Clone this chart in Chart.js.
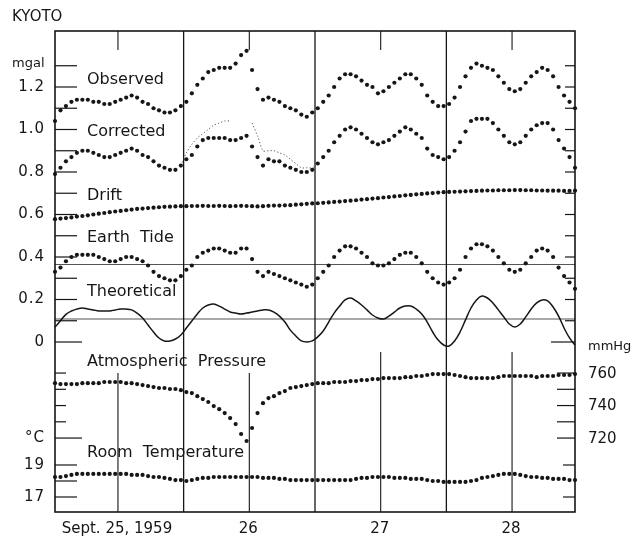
<!DOCTYPE html>
<html>
<head>
<meta charset="utf-8">
<script src="https://cdn.jsdelivr.net/npm/chart.js@4.4.1/dist/chart.umd.min.js"></script>
<style>
  html, body { margin: 0; padding: 0; background: #fff; }
  #wrap { width: 635px; height: 536px; position: relative; }
</style>
</head>
<body>
<div id="wrap"><canvas id="kyoto"></canvas></div>
<script>
// hourly readings, index = hour from start of Sept. 25 (0..95)
const observed = [1.04,1.09,1.11,1.13,1.14,1.14,1.14,1.13,1.13,1.12,
  1.12,1.13,1.14,1.15,1.16,1.15,1.13,1.12,1.10,1.09,
  1.08,1.08,1.09,1.11,1.13,1.17,1.21,1.24,1.27,1.28,
  1.29,1.29,1.29,1.31,1.35,1.37,1.28,1.19,1.14,1.15,
  1.14,1.13,1.11,1.10,1.09,1.07,1.06,1.08,1.10,1.13,
  1.16,1.20,1.24,1.26,1.26,1.25,1.23,1.21,1.20,1.17,
  1.18,1.20,1.22,1.24,1.26,1.26,1.24,1.21,1.16,1.13,
  1.11,1.11,1.12,1.15,1.20,1.25,1.29,1.31,1.30,1.29,
  1.28,1.25,1.22,1.19,1.18,1.19,1.22,1.25,1.27,1.29,
  1.28,1.25,1.20,1.16,1.13,1.10];

const corrected = [0.79,0.82,0.85,0.87,0.89,0.90,0.90,0.89,0.88,0.87,
  0.87,0.88,0.89,0.90,0.91,0.90,0.88,0.87,0.85,0.83,
  0.82,0.81,0.81,0.83,0.86,0.88,0.92,0.95,0.96,0.96,
  0.96,0.96,0.95,0.95,0.96,0.97,0.92,0.87,0.83,0.86,
  0.85,0.85,0.83,0.82,0.81,0.80,0.80,0.81,0.84,0.87,
  0.90,0.94,0.97,1.00,1.01,1.00,0.98,0.96,0.94,0.93,
  0.94,0.95,0.97,0.99,1.01,1.00,0.98,0.96,0.91,0.88,
  0.87,0.86,0.87,0.90,0.94,0.99,1.04,1.05,1.05,1.05,
  1.03,1.00,0.97,0.94,0.93,0.94,0.97,1.00,1.02,1.03,
  1.03,1.00,0.95,0.91,0.87,0.82];

// thin dotted trace during the pressure drop, hours 23..48
const altStart = 23;
const altCorrected = [0.83,0.89,0.93,0.96,0.98,1.00,1.02,1.03,1.04,1.04,
  null,null,null,1.03,0.97,0.90,0.90,0.90,0.89,0.88,
  0.86,0.84,0.82,0.82,0.82,0.84];

const drift = [0.578,0.581,0.583,0.586,0.590,0.593,0.596,0.600,0.604,0.607,
  0.611,0.614,0.617,0.620,0.623,0.626,0.628,0.630,0.632,0.634,
  0.636,0.637,0.638,0.639,0.639,0.640,0.640,0.641,0.640,0.640,
  0.641,0.640,0.639,0.640,0.641,0.640,0.639,0.638,0.639,0.641,
  0.642,0.642,0.643,0.644,0.646,0.648,0.650,0.652,0.653,0.655,
  0.657,0.659,0.661,0.663,0.665,0.667,0.670,0.672,0.675,0.677,
  0.680,0.682,0.685,0.687,0.690,0.692,0.695,0.697,0.699,0.701,
  0.703,0.705,0.706,0.707,0.708,0.709,0.710,0.711,0.712,0.713,
  0.713,0.714,0.714,0.714,0.715,0.715,0.714,0.714,0.713,0.713,
  0.712,0.712,0.712,0.711,0.711,0.712];

const earthTide = [0.33,0.35,0.38,0.40,0.41,0.41,0.41,0.41,0.40,0.39,
  0.38,0.38,0.39,0.40,0.40,0.39,0.38,0.36,0.33,0.31,
  0.30,0.29,0.29,0.31,0.34,0.36,0.40,0.42,0.43,0.44,
  0.44,0.43,0.42,0.42,0.44,0.44,0.39,0.33,0.31,0.33,
  0.32,0.31,0.30,0.29,0.28,0.27,0.26,0.27,0.30,0.33,
  0.36,0.40,0.43,0.45,0.45,0.44,0.42,0.40,0.37,0.36,
  0.36,0.37,0.39,0.41,0.42,0.42,0.40,0.37,0.33,0.30,
  0.28,0.27,0.28,0.30,0.34,0.40,0.44,0.46,0.46,0.45,
  0.43,0.40,0.37,0.34,0.33,0.34,0.37,0.40,0.43,0.44,
  0.43,0.40,0.35,0.31,0.28,0.25];

const theoretical = [0.07,0.10,0.13,0.146,0.155,0.16,0.155,0.151,0.146,0.146,
  0.146,0.151,0.155,0.155,0.151,0.136,0.113,0.080,0.047,0.019,
  0.005,0.005,0.014,0.033,0.066,0.099,0.132,0.160,0.174,0.179,
  0.169,0.155,0.141,0.136,0.132,0.136,0.141,0.146,0.151,0.151,
  0.141,0.122,0.094,0.056,0.028,0.005,0.000,0.005,0.024,0.052,
  0.094,0.136,0.169,0.198,0.207,0.193,0.174,0.151,0.127,0.113,
  0.108,0.122,0.141,0.160,0.169,0.169,0.155,0.132,0.094,0.047,
  0.009,-0.014,-0.019,0.005,0.047,0.104,0.160,0.198,0.216,0.207,
  0.184,0.151,0.118,0.085,0.071,0.085,0.118,0.155,0.184,0.198,
  0.193,0.165,0.122,0.066,0.019,-0.014];

const pressure = [753.8,753.2,753.2,753.2,753.2,753.8,753.8,753.8,753.8,754.5,
  754.5,754.5,754.5,753.8,753.8,753.2,752.6,752.0,751.4,750.8,
  750.8,750.2,750.2,749.5,748.3,747.7,745.8,744.0,742.2,739.7,
  737.8,735.4,732.3,728.6,722.5,718.2,726.2,735.4,741.5,744.6,
  745.8,747.7,748.9,750.8,751.4,752.0,752.6,753.2,753.8,753.8,
  753.8,754.5,754.5,754.5,755.1,755.1,755.7,755.7,756.3,756.3,
  756.9,756.9,756.9,756.9,757.5,757.5,758.2,758.2,758.8,759.4,
  759.4,759.4,759.4,758.8,758.2,757.5,756.9,756.9,756.9,756.9,
  756.9,757.5,758.2,758.2,758.2,758.2,758.2,758.2,757.5,758.2,
  758.2,758.2,758.8,758.8,758.8,759.4];

const roomTemp = [18.25,18.25,18.31,18.38,18.44,18.44,18.44,18.44,18.44,18.44,
  18.44,18.44,18.44,18.44,18.38,18.38,18.38,18.31,18.25,18.25,
  18.19,18.13,18.06,18.06,18.00,18.06,18.13,18.19,18.19,18.25,
  18.25,18.25,18.25,18.25,18.25,18.25,18.25,18.25,18.19,18.19,
  18.19,18.13,18.13,18.06,18.06,18.06,18.06,18.06,18.06,18.06,
  18.06,18.06,18.06,18.06,18.06,18.13,18.19,18.19,18.25,18.25,
  18.25,18.25,18.19,18.19,18.19,18.13,18.13,18.13,18.06,18.00,
  18.00,17.94,17.94,17.94,17.94,17.94,18.00,18.06,18.19,18.25,
  18.31,18.38,18.44,18.44,18.44,18.38,18.31,18.25,18.25,18.19,
  18.19,18.13,18.13,18.13,18.06,18.06];

// axes
const mgalTicks = [0,0.1,0.2,0.3,0.4,0.5,0.6,0.7,0.8,0.9,1.0,1.1,1.2,1.3];
const mgalLabelValues = [0,0.2,0.4,0.6,0.8,1.0,1.2];
const mgalLabelText = ['0','0.2','0.4','0.6','0.8','1.0','1.2'];
const mmhgTicks = [720,730,740,750,760];
const mmhgLabels = [720,740,760];
const degTicks = [17,18,19];
const degLabels = [17,19];
const baselines = [0.365, 0.108];
const midnights = [23.5, 47.5, 71.5];
const noons = [11.5, 35.5, 59.5, 83.5];
const noonLineFrom = [760, 760, 773, 773]; // mmHg where the lower noon lines begin
const dayLabels = ['Sept. 25, 1959', '26', '27', '28'];

const ink = '#161616';
const FONT = '"DejaVu Sans", sans-serif';

const nameTags = [
  ['Observed', 80], ['Corrected', 132], ['Drift', 196], ['Earth  Tide', 238],
  ['Theoretical', 292], ['Atmospheric  Pressure', 362], ['Room  Temperature', 453]
];

function seg(ctx, x1, y1, x2, y2) {
  ctx.beginPath();
  ctx.moveTo(x1, y1);
  ctx.lineTo(x2, y2);
  ctx.stroke();
}

const sheet = {
  id: 'sheet',
  beforeDatasetsDraw(chart) {
    const { ctx, chartArea: a, scales } = chart;
    const X = scales.x, Y = scales.y, P = scales.p;
    ctx.save();
    ctx.strokeStyle = '#555';
    ctx.lineWidth = 1.1;
    baselines.forEach(v => {
      const y = Y.getPixelForValue(v);
      seg(ctx, a.left, y, a.right, y);
    });
    ctx.strokeStyle = ink;
    ctx.lineWidth = 1.3;
    midnights.forEach(h => {
      const x = X.getPixelForValue(h);
      seg(ctx, x, a.top, x, a.bottom);
    });
    ctx.lineWidth = 1.1;
    noons.forEach((h, i) => {
      const x = X.getPixelForValue(h);
      seg(ctx, x, a.top, x, a.top + 19);
      seg(ctx, x, P.getPixelForValue(noonLineFrom[i]), x, a.bottom);
    });
    ctx.restore();
  },
  afterDatasetsDraw(chart) {
    const { ctx, chartArea: a, scales } = chart;
    const X = scales.x, Y = scales.y, P = scales.p, T = scales.t;
    ctx.save();
    ctx.strokeStyle = ink;
    ctx.lineWidth = 1.6;
    ctx.strokeRect(a.left, a.top, a.right - a.left, a.bottom - a.top);

    ctx.lineWidth = 1.2;
    mgalTicks.forEach(v => {
      const y = Y.getPixelForValue(v);
      seg(ctx, a.left, y, a.left + (v === 0 ? 27 : 22), y);
      seg(ctx, a.right - (v === 0 ? 24 : 10), y, a.right, y);
    });
    mmhgTicks.forEach(v => {
      const y = P.getPixelForValue(v);
      seg(ctx, a.left, y, a.left + (v === 720 ? 27 : 11), y);
      seg(ctx, a.right - 18, y, a.right, y);
    });
    degTicks.forEach(v => {
      const y = T.getPixelForValue(v);
      seg(ctx, a.left, y, a.left + 22, y);
      if (v !== 18) seg(ctx, a.right - 12, y, a.right, y);
    });

    ctx.fillStyle = ink;
    ctx.textBaseline = 'middle';

    // left values
    ctx.font = '15px ' + FONT;
    ctx.textAlign = 'right';
    ctx.letterSpacing = '1px';
    mgalLabelValues.forEach((v, i) => ctx.fillText(mgalLabelText[i], 45, Y.getPixelForValue(v)));
    degLabels.forEach(v => ctx.fillText(String(v), 45, T.getPixelForValue(v)));
    ctx.fillText('°C', 45, P.getPixelForValue(720));
    ctx.letterSpacing = '0px';

    // right values
    ctx.textAlign = 'left';
    ctx.font = '15px ' + FONT;
    mmhgLabels.forEach(v => ctx.fillText(String(v), 588, P.getPixelForValue(v) + 1));
    ctx.font = '13px ' + FONT;
    ctx.fillText('mmHg', 588, P.getPixelForValue(776));
    ctx.fillText('mgal', 12, Y.getPixelForValue(1.3) - 2);
    ctx.font = '15px ' + FONT;
    ctx.fillText('KYOTO', 12, 17);

    // series names
    ctx.font = '16px ' + FONT;
    nameTags.forEach(([t, y]) => ctx.fillText(t, 87, y));

    // days
    ctx.textAlign = 'center';
    ctx.font = '15px ' + FONT;
    noons.forEach((h, i) => ctx.fillText(dayLabels[i], X.getPixelForValue(h) - 1, 529));
    ctx.restore();
  }
};

const dots = (vals, axis) => ({
  data: vals.map((v, i) => ({ x: i, y: v })),
  yAxisID: axis,
  showLine: false,
  pointRadius: 2.1,
  pointBackgroundColor: ink,
  pointBorderWidth: 0,
  clip: false
});

new Chart(document.getElementById('kyoto'), {
  type: 'line',
  data: {
    datasets: [
      {
        data: altCorrected.map((v, k) => ({ x: altStart + k, y: v })),
        yAxisID: 'y',
        borderColor: '#444',
        borderWidth: 0.9,
        borderDash: [1.2, 2.2],
        pointRadius: 0,
        tension: 0.3,
        spanGaps: false
      },
      {
        data: theoretical.map((v, i) => ({ x: i, y: v })),
        yAxisID: 'y',
        borderColor: ink,
        borderWidth: 1.5,
        pointRadius: 0,
        tension: 0.4,
        clip: false
      },
      dots(observed, 'y'),
      dots(corrected, 'y'),
      dots(drift, 'y'),
      dots(earthTide, 'y'),
      dots(pressure, 'p'),
      dots(roomTemp, 't')
    ]
  },
  options: {
    responsive: true,
    maintainAspectRatio: false,
    animation: false,
    devicePixelRatio: 1,
    layout: { padding: { left: 55, right: 60, top: 31, bottom: 24 } },
    plugins: { legend: { display: false }, tooltip: { enabled: false } },
    scales: {
      x: { type: 'linear', display: false, min: 0, max: 95 },
      y: { display: false, min: -0.8, max: 1.4635 },
      p: { display: false, min: 674.5, max: 970.5 },
      t: { display: false, min: 16.0625, max: 46.125 }
    }
  },
  plugins: [sheet]
});
</script>
</body>
</html>
